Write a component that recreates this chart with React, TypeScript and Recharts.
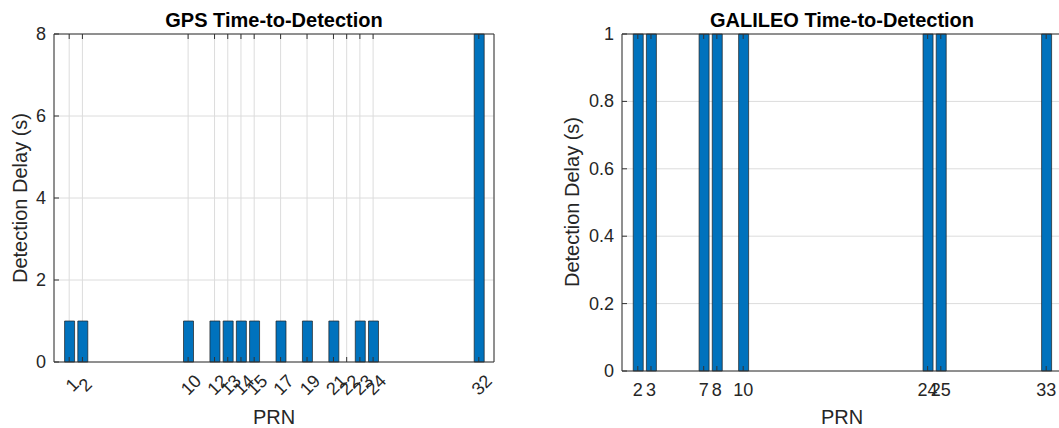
import { Bar, BarChart, CartesianGrid, XAxis, YAxis } from "recharts";

const gpsPrn = [1, 2, 10, 12, 13, 14, 15, 17, 19, 21, 22, 23, 24, 32];
const gpsDelay = [1, 1, 1, 1, 1, 1, 1, 1, 1, 1, 0, 1, 1, 8];
const gpsYTicks = [0, 2, 4, 6, 8];

const galileoPrn = [2, 3, 7, 8, 10, 24, 25, 33];
const galileoDelay = [1, 1, 1, 1, 1, 1, 1, 1];
const galileoYTicks = [0, 0.2, 0.4, 0.6, 0.8, 1];

const FONT = '"Liberation Sans", Arial, sans-serif';
const TXT = "#262626";
const AXIS = "#333333";

const gpsData = gpsPrn.map((prn, i) => ({ prn, delay: gpsDelay[i] }));
const galileoData = galileoPrn.map((prn, i) => ({ prn, delay: galileoDelay[i] }));

const RotTick = ({ x, y, payload }: any) => (
  <text
    transform={`translate(${x + 3},${y + 23}) rotate(-45)`}
    textAnchor="middle"
    dominantBaseline="central"
    fontSize={18}
    fontFamily={FONT}
    fill={TXT}
  >
    {payload.value}
  </text>
);

const FlatTick = ({ x, y, payload }: any) => (
  <text x={x} y={y + 25} textAnchor="middle" fontSize={18} fontFamily={FONT} fill={TXT}>
    {payload.value}
  </text>
);

const LeftTick = ({ x, y, payload }: any) => (
  <text x={x - 8} y={y + 6} textAnchor="end" fontSize={18} fontFamily={FONT} fill={TXT}>
    {payload.value}
  </text>
);

const NoTick = () => <g />;

type PanelProps = {
  data: { prn: number; delay: number }[];
  xTicks: number[];
  xDomain: [number, number];
  yTicks: number[];
  yDomain: [number, number];
  width: number;
  left: number;
  right: number;
  bottom: number;
  rotated: boolean;
};

function Panel(p: PanelProps) {
  return (
    <BarChart
      width={p.width}
      height={428}
      data={p.data}
      margin={{ top: 0, right: 0, bottom: 0, left: 0 }}
      style={{ fontFamily: FONT }}
    >
      <CartesianGrid stroke="#dcdcdc" strokeWidth={1} />
      <XAxis
        dataKey="prn"
        type="number"
        domain={p.xDomain}
        ticks={p.xTicks}
        interval={0}
        height={p.bottom}
        tickSize={-5}
        tickMargin={5}
        stroke={AXIS}
        tick={p.rotated ? RotTick : FlatTick}
      />
      <XAxis
        xAxisId="top"
        orientation="top"
        dataKey="prn"
        type="number"
        domain={p.xDomain}
        ticks={p.xTicks}
        interval={0}
        height={34}
        tickSize={-5}
        stroke={AXIS}
        tick={NoTick}
      />
      <YAxis
        type="number"
        domain={p.yDomain}
        ticks={p.yTicks}
        interval={0}
        width={p.left}
        tickSize={-5}
        tickMargin={5}
        stroke={AXIS}
        tick={LeftTick}
      />
      <YAxis
        yAxisId="right"
        orientation="right"
        type="number"
        domain={p.yDomain}
        ticks={p.yTicks}
        interval={0}
        width={p.right}
        tickSize={-5}
        stroke={AXIS}
        tick={NoTick}
      />
      <Bar
        dataKey="delay"
        barSize={10}
        fill="#0072BD"
        stroke="#1f1f1f"
        strokeWidth={0.7}
        isAnimationActive={false}
      />
    </BarChart>
  );
}

export default function App() {
  return (
    <div
      style={{
        position: "absolute",
        left: 0,
        top: 0,
        width: 1059,
        height: 428,
        overflow: "hidden",
        background: "#fff",
      }}
    >
      <div style={{ position: "absolute", left: 0, top: 0 }}>
        <Panel
          data={gpsData}
          xTicks={gpsPrn}
          xDomain={[-0.15, 33.15]}
          yTicks={gpsYTicks}
          yDomain={[0, 8]}
          width={530}
          left={54}
          right={36}
          bottom={66}
          rotated
        />
      </div>
      <div style={{ position: "absolute", left: 530, top: 0 }}>
        <Panel
          data={galileoData}
          xTicks={galileoPrn}
          xDomain={[0.8, 34.2]}
          yTicks={galileoYTicks}
          yDomain={[0, 1]}
          width={540}
          left={92}
          right={8}
          bottom={57}
          rotated={false}
        />
      </div>
      <svg
        width={1059}
        height={428}
        style={{ position: "absolute", left: 0, top: 0, pointerEvents: "none" }}
        fontFamily={FONT}
      >
        <text x={274} y={27} textAnchor="middle" fontSize={20} fontWeight="bold" fill="#000">
          GPS Time-to-Detection
        </text>
        <text x={842} y={27} textAnchor="middle" fontSize={20} fontWeight="bold" fill="#000">
          GALILEO Time-to-Detection
        </text>
        <text transform="translate(27,198) rotate(-90)" textAnchor="middle" fontSize={20} fill={TXT}>
          Detection Delay (s)
        </text>
        <text transform="translate(579,202) rotate(-90)" textAnchor="middle" fontSize={20} fill={TXT}>
          Detection Delay (s)
        </text>
        <text x={274} y={424} textAnchor="middle" fontSize={20} fill={TXT}>
          PRN
        </text>
        <text x={842} y={424} textAnchor="middle" fontSize={20} fill={TXT}>
          PRN
        </text>
      </svg>
    </div>
  );
}
